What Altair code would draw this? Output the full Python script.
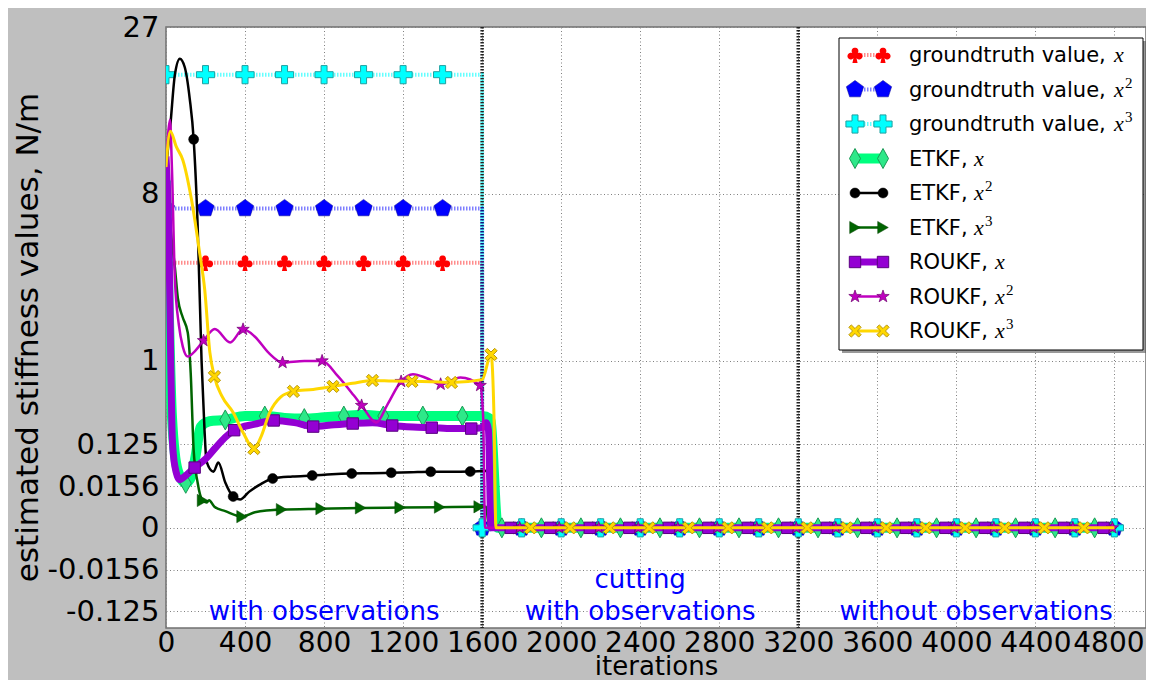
import math
import altair as alt
import pandas as pd

# ---------------- data ----------------
x_ticks = [0, 400, 800, 1200, 1600, 2000, 2400, 2800, 3200, 3600, 4000, 4400, 4800]
y_ticks = [-0.125, -0.015625, 0, 0.015625, 0.125, 1, 8, 27]
y_tick_labels = ["-0.125", "-0.0156", "0", "0.0156", "0.125", "1", "8", "27"]
phase_bounds = [1600, 3200]

# ground truth (constant until cutting at 1600, then 0)
gt_t = [0, 1600, 1600, 4800]
gt_x_v = [4, 4, 0, 0]
gt_x2_v = [7, 7, 0, 0]
gt_x3_v = [20, 20, 0, 0]
gt_marker_t = [0, 200, 400, 600, 800, 1000, 1200, 1400, 1600, 1800, 2000, 2200, 2400,
               2600, 2800, 3000, 3200, 3400, 3600, 3800, 4000, 4200, 4400, 4600, 4800]
gt_x_marker_v = [4] * 8 + [0] * 17
gt_x2_marker_v = [7] * 8 + [0] * 17
gt_x3_marker_v = [20] * 8 + [0] * 17

# ETKF, x
etkf_x_t = [0, 15, 30, 60, 100, 130, 150, 175, 220, 300, 400, 500, 600, 700, 800, 900, 1000,
            1100, 1200, 1300, 1400, 1500, 1600, 1640, 1680, 4800]
etkf_x_v = [9, 2, 0.3, 0.04, 0.019, 0.03, 0.08, 0.22, 0.26, 0.27, 0.30, 0.30, 0.285, 0.28, 0.29,
            0.30, 0.31, 0.30, 0.30, 0.30, 0.30, 0.30, 0.30, 0.28, 0, 0]
etkf_x_mt = [100, 300, 500, 700, 900, 1100, 1300, 1500]
# ETKF, x^2
etkf_x2_t = [0, 22, 45, 70, 95, 120, 140, 160, 180, 195, 205, 240, 265, 300, 340, 375, 420, 480,
             540, 640, 740, 840, 940, 1040, 1140, 1240, 1340, 1440, 1540, 1625, 1645, 4800]
etkf_x2_v = [10, 14, 20, 22.2, 21, 17, 12.6, 6, 1, 0.2, 0.063, 0.038, 0.06, 0.02, 0.0066, 0.0049,
             0.01, 0.018, 0.0257, 0.029, 0.0307, 0.033, 0.0344, 0.035, 0.036, 0.037, 0.038, 0.038,
             0.0384, 0.04, 0, 0]
etkf_x2_mt = [140, 340, 540, 740, 940, 1140, 1340, 1540]
# ETKF, x^3
etkf_x3_t = [0, 15, 30, 45, 60, 85, 110, 125, 140, 160, 185, 205, 218, 245, 300, 385, 450, 585,
             785, 985, 1185, 1385, 1585, 1620, 1635, 4800]
etkf_x3_v = [11, 7, 5, 3.8, 2.6, 2.0, 1.6, 0.8, 0.1, 0.02, 0.0044, 0.0035, 0.0045, 0.002, 0.001,
             0.0003, 0.0008, 0.0013, 0.0015, 0.0017, 0.0018, 0.0019, 0.002, 0.002, 0, 0]
etkf_x3_mt = [185, 385, 585, 785, 985, 1185, 1385, 1585]
# ROUKF, x
roukf_x_t = [0, 15, 25, 32, 45, 70, 90, 145, 200, 250, 300, 345, 450, 545, 650, 745, 850, 945,
             1045, 1145, 1250, 1345, 1450, 1545, 1600, 1620, 1632, 1645, 4800]
roukf_x_v = [11, 5, 0.8, 0.15, 0.05, 0.024, 0.028, 0.047, 0.07, 0.11, 0.16, 0.2, 0.24, 0.266,
             0.25, 0.223, 0.235, 0.244, 0.25, 0.23, 0.22, 0.216, 0.21, 0.21, 0.215, 0.25, 0.2, 0, 0]
roukf_x_mt = [145, 345, 545, 745, 945, 1145, 1345, 1545]
# ROUKF, x^2
roukf_x2_t = [0, 10, 20, 30, 45, 65, 85, 110, 150, 190, 247, 325, 390, 450, 520, 590, 700, 790,
              870, 950, 990, 1065, 1120, 1190, 1250, 1320, 1390, 1490, 1590, 1605, 1615, 4800]
roukf_x2_v = [10, 13, 14.6, 10, 3.3, 1.8, 1.28, 1.08, 1.2, 1.41, 1.69, 1.37, 1.68, 1.5, 1.15,
              0.97, 1.0, 1.0, 0.75, 0.5, 0.394, 0.252, 0.4, 0.674, 0.78, 0.72, 0.636, 0.73, 0.62,
              0.3, 0, 0]
roukf_x2_mt = [190, 390, 590, 790, 990, 1190, 1390, 1590]
# ROUKF, x^3
roukf_x3_t = [0, 22, 52, 85, 129, 170, 196, 222, 245, 283, 340, 390, 445, 480, 525, 580, 645,
              745, 845, 945, 1045, 1145, 1245, 1345, 1445, 1600, 1645, 1660, 1670, 4800]
roukf_x3_v = [10.1, 13.4, 11.9, 10.7, 7.6, 4.48, 2.9, 1.16, 0.744, 0.49, 0.33, 0.186, 0.107,
              0.16, 0.33, 0.48, 0.546, 0.57, 0.608, 0.65, 0.688, 0.68, 0.676, 0.67, 0.66, 0.70,
              1.12, 0.3, 0, 0]
roukf_x3_mt = [245, 445, 645, 845, 1045, 1245, 1445, 1645]

phase_text = ["with observations", "cutting", "with observations", "without observations"]
phase_text_t = [800, 2400, 2400, 4100]
phase_text_v = [-0.1656, -0.0457, -0.1656, -0.1656]

legend_main = ["groundtruth value, ", "groundtruth value, ", "groundtruth value, ",
               "ETKF, ", "ETKF, ", "ETKF, ", "ROUKF, ", "ROUKF, ", "ROUKF, "]
legend_pow = ["", "2", "3", "", "2", "3", "", "2", "3"]

# ---------------- marker shapes (unit-box SVG paths) ----------------
def circ(cx, cy, r, n=18):
    pts = [(cx + r * math.cos(2 * math.pi * k / n), cy + r * math.sin(2 * math.pi * k / n))
           for k in range(n)]
    return "M" + " L".join(f"{x:.3f},{y:.3f}" for x, y in pts) + " Z "

CLUB = (circ(0, -0.5, 0.42) + circ(-0.52, 0.14, 0.42) + circ(0.52, 0.14, 0.42)
        + "M-0.35,-0.3 L0.35,-0.3 L0.35,0.35 L-0.35,0.35 Z M-0.12,0.1 L0.12,0.1 L0.32,1 L-0.32,1 Z")
PENTA = "M0,-1 L0.951,-0.309 L0.588,0.809 L-0.588,0.809 L-0.951,-0.309 Z"
PLUS = "M-0.33,-1 H0.33 V-0.33 H1 V0.33 H0.33 V1 H-0.33 V0.33 H-1 V-0.33 H-0.33 Z"
THIN_DIAMOND = "M0,-1 L0.55,0 L0,1 L-0.55,0 Z"
STAR = ("M0,-1 L0.235,-0.324 L0.951,-0.309 L0.380,0.124 L0.588,0.809 L0,0.4 "
        "L-0.588,0.809 L-0.380,0.124 L-0.951,-0.309 L-0.235,-0.324 Z")
XSHAPE = ("M-1,-0.6 L-0.6,-1 L0,-0.4 L0.6,-1 L1,-0.6 L0.4,0 L1,0.6 L0.6,1 L0,0.4 "
          "L-0.6,1 L-1,0.6 L-0.4,0 Z")

# ---------------- scales / axes ----------------
W, H = 980, 601
FONT = "DejaVu Sans"
label_expr = " : ".join(f"datum.value == {v} ? '{s}'" for v, s in zip(y_ticks, y_tick_labels)) + " : ''"

xaxis = alt.Axis(values=x_ticks, format="d", grid=True, gridColor="#808080", gridDash=[1, 2.5],
                 gridWidth=1, ticks=False, domain=False, labelFont=FONT, labelFontSize=28,
                 labelColor="black", labelPadding=1, labelFlush=False, labelOverlap=False,
                 labelOffset={"condition": {"test": "datum.value == 4800", "value": -6}, "value": 0},
                 title="iterations", titleFont=FONT, titleFontSize=26, titleFontWeight="normal",
                 titleColor="black", titleX=490, titleY=46, titleBaseline="alphabetic",
                 titleAlign="center")
yaxis = alt.Axis(values=y_ticks, labelExpr=label_expr, grid=True, gridColor="#808080",
                 gridDash=[1, 2.5], gridWidth=1, ticks=False, domain=False, labelFont=FONT,
                 labelFontSize=29, labelColor="black", labelPadding=7, labelFlush=False,
                 labelOverlap=False, title="estimated stiffness values, N/m", titleFont=FONT,
                 titleFontSize=31, titleFontWeight="normal", titleColor="black", titleAngle=270,
                 titleX=-129, titleY=310, titleBaseline="alphabetic", titleAlign="center")
xscale = alt.Scale(domain=[0, 4960], nice=False, zero=False)
yscale = alt.Scale(type="pow", exponent=1 / 3, domain=[-0.216, 27], nice=False, zero=False)
X = alt.X("t:Q", scale=xscale, axis=xaxis)
Y = alt.Y("v:Q", scale=yscale, axis=yaxis)


def line_layer(t, v, color, width, dash=None, opacity=1.0, interp="monotone"):
    df = pd.DataFrame({"t": t, "v": v, "i": list(range(len(t)))})
    kw = dict(color=color, strokeWidth=width, opacity=opacity, interpolate=interp, clip=True,
              strokeJoin="round")
    if dash:
        kw["strokeDash"] = dash
    return alt.Chart(df).mark_line(**kw).encode(x=X, y=Y, order="i:Q")


def point_layer(t, v, shape, size, fill, stroke, sw):
    df = pd.DataFrame({"t": t, "v": v})
    return alt.Chart(df).mark_point(shape=shape, size=size, filled=True, fill=fill, stroke=stroke,
                                    strokeWidth=sw, opacity=1, clip=True).encode(x=X, y=Y)


def est_markers(t, v, mt, post_start):
    lookup = dict(zip(t, v))
    pt = list(mt) + list(range(post_start, 4801, 200))
    pv = [lookup[m] for m in mt] + [0] * (len(pt) - len(mt))
    return pt, pv


series = [
    dict(t=gt_t, v=gt_x_v, mt=gt_marker_t, mv=gt_x_marker_v,
         line=dict(color="#FF0000", width=4, dash=[1.5, 1.5], opacity=0.45, interp="linear"),
         mark=dict(shape=CLUB, size=260, fill="#FF0000", stroke="#FF0000", sw=0)),
    dict(t=gt_t, v=gt_x2_v, mt=gt_marker_t, mv=gt_x2_marker_v,
         line=dict(color="#0000FF", width=4, dash=[1.5, 1.5], opacity=0.5, interp="linear"),
         mark=dict(shape=PENTA, size=330, fill="#0000FF", stroke="#000090", sw=0.5)),
    dict(t=gt_t, v=gt_x3_v, mt=gt_marker_t, mv=gt_x3_marker_v,
         line=dict(color="#00FFFF", width=4, dash=[1.5, 1.5], opacity=0.6, interp="linear"),
         mark=dict(shape=PLUS, size=330, fill="#00FFFF", stroke="#20A0A0", sw=1)),
]
for (t, v, mt, ps, lst, mst) in [
    (etkf_x_t, etkf_x_v, etkf_x_mt, 1700,
     dict(color="#00FF7F", width=10), dict(shape=THIN_DIAMOND, size=400, fill="#2EE889", stroke="#1A9955", sw=1)),
    (etkf_x2_t, etkf_x2_v, etkf_x2_mt, 1740,
     dict(color="#000000", width=2.5), dict(shape="circle", size=100, fill="#000000", stroke="#000000", sw=0.5)),
    (etkf_x3_t, etkf_x3_v, etkf_x3_mt, 1785,
     dict(color="#006400", width=2.5), dict(shape="triangle-right", size=150, fill="#006400", stroke="#004000", sw=0.5)),
    (roukf_x_t, roukf_x_v, roukf_x_mt, 1745,
     dict(color="#9400D3", width=7), dict(shape="square", size=130, fill="#9400D3", stroke="#5A0080", sw=1)),
    (roukf_x2_t, roukf_x2_v, roukf_x2_mt, 1790,
     dict(color="#BF00BF", width=2.5), dict(shape=STAR, size=170, fill="#BF00BF", stroke="#700070", sw=0.7)),
    (roukf_x3_t, roukf_x3_v, roukf_x3_mt, 1845,
     dict(color="#FFD700", width=3), dict(shape=XSHAPE, size=150, fill="#FFD700", stroke="#B8960B", sw=1)),
]:
    pt, pv = est_markers(t, v, mt, ps)
    series.append(dict(t=t, v=v, mt=pt, mv=pv, line=dict(lst, opacity=1.0, interp="monotone", dash=None),
                       mark=mst))

layers = []
# phase boundaries
layers.append(alt.Chart(pd.DataFrame({"t": phase_bounds})).mark_rule(
    color="#222222", strokeWidth=3.5, strokeDash=[1.5, 1.5]).encode(x=X))

for s in series:
    ls = s["line"]
    layers.append(line_layer(s["t"], s["v"], ls["color"], ls["width"], ls.get("dash"),
                             ls.get("opacity", 1.0), ls.get("interp", "monotone")))
    m = s["mark"]
    layers.append(point_layer(s["mt"], s["mv"], m["shape"], m["size"], m["fill"], m["stroke"], m["sw"]))

# phase annotations
layers.append(alt.Chart(pd.DataFrame({"t": phase_text_t, "v": phase_text_v, "txt": phase_text}))
              .mark_text(color="#0000FF", font=FONT, fontSize=26, align="center", baseline="alphabetic")
              .encode(x=X, y=Y, text="txt:N"))

# ---------------- legend ----------------
dummy = pd.DataFrame({"a": [0]})
LX0, LX1, LY0, LY1 = 673, 977, 11, 323
layers.append(alt.Chart(dummy).mark_rect(fill="#555555", opacity=0.6).encode(
    x=alt.value(LX0 + 3), x2=alt.value(LX1 + 3), y=alt.value(LY0 + 3), y2=alt.value(LY1 + 3)))
layers.append(alt.Chart(dummy).mark_rect(fill="white", stroke="black", strokeWidth=1).encode(
    x=alt.value(LX0), x2=alt.value(LX1), y=alt.value(LY0), y2=alt.value(LY1)))
math_x = [948, 948, 948, 808, 808, 808, 829, 829, 829]
for i, s in enumerate(series):
    yy = 28 + 34.5 * i
    ls, m = s["line"], s["mark"]
    rkw = dict(color=ls["color"], strokeWidth=ls["width"], opacity=ls.get("opacity", 1.0))
    if ls.get("dash"):
        rkw["strokeDash"] = ls["dash"]
    layers.append(alt.Chart(dummy).mark_rule(**rkw).encode(
        x=alt.value(689), x2=alt.value(717), y=alt.value(yy)))
    for px in (689, 717):
        layers.append(alt.Chart(dummy).mark_point(
            shape=m["shape"], size=m["size"], filled=True, fill=m["fill"], stroke=m["stroke"],
            strokeWidth=m["sw"], opacity=1).encode(x=alt.value(px), y=alt.value(yy)))
    layers.append(alt.Chart(dummy).mark_text(
        text=legend_main[i], font=FONT, fontSize=21, color="black", align="left",
        baseline="alphabetic").encode(x=alt.value(743), y=alt.value(yy + 7)))
    layers.append(alt.Chart(dummy).mark_text(
        text="x", font="Liberation Serif", fontStyle="italic", fontSize=22, color="black",
        align="left", baseline="alphabetic").encode(x=alt.value(math_x[i]), y=alt.value(yy + 7)))
    if legend_pow[i]:
        layers.append(alt.Chart(dummy).mark_text(
            text=legend_pow[i], font="Liberation Serif", fontSize=15, color="black",
            align="left", baseline="alphabetic").encode(x=alt.value(math_x[i] + 11), y=alt.value(yy - 2)))

chart = alt.layer(*layers).properties(
    width=W, height=H, background="#BFBFBF",
    autosize=alt.AutoSizeParams(type="none"),
    padding={"left": 158, "top": 19, "right": 0, "bottom": 52},
).configure_view(fill="white", stroke="#707070", strokeWidth=1.5)

chart.save("out.html", embed_options={"renderer": "svg", "actions": False})
